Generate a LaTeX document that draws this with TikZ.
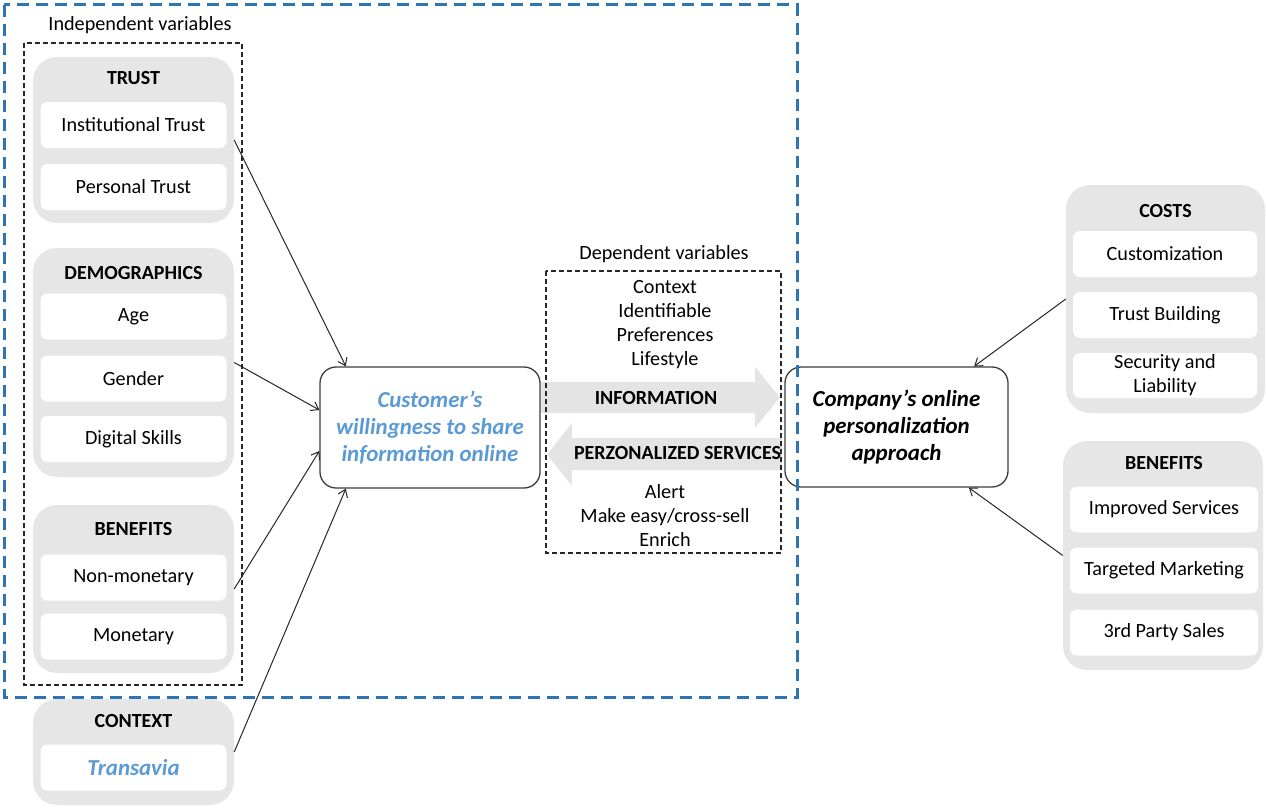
\documentclass[tikz,border=0pt]{standalone}
\usepackage{fontspec}
\setmainfont{Carlito}
\usetikzlibrary{arrows.meta}
\definecolor{grpgray}{RGB}{230,230,230}
\definecolor{arrgray}{RGB}{228,228,228}
\definecolor{hlblue}{RGB}{91,155,213}
\definecolor{frameblue}{RGB}{46,117,182}
\definecolor{boxedge}{RGB}{60,60,60}
\newcommand\normtxt{\fontsize{20.2}{24}\selectfont}
\newcommand\boldtxt{\fontsize{20}{24}\selectfont\bfseries}
\newcommand\emtxt{\fontsize{22.9}{27}\selectfont\bfseries\itshape}
\begin{document}
\begin{tikzpicture}[x=1pt,y=-1pt,
  grp/.style={fill=grpgray, rounded corners=24pt, inner sep=0pt, minimum width=201pt},
  item/.style={fill=white, rounded corners=7pt, inner sep=0pt, minimum width=186pt,
    minimum height=46pt, font=\normtxt, align=center},
  ttl/.style={font=\boldtxt, inner sep=0pt},
  lbl/.style={font=\normtxt, inner sep=0pt, align=center},
  mainbox/.style={draw=boxedge, line width=1.3pt, fill=white, rounded corners=16pt,
    inner sep=0pt, align=center, font=\emtxt},
  conn/.style={draw=black!85, line width=1pt, -{Straight Barb[length=7pt,width=10pt]}},
  groupframe/.style={draw=black!85, line width=1.4pt, dash pattern=on 5pt off 3pt},
  outerframe/.style={draw=frameblue, line width=3pt, dash pattern=on 12pt off 7pt}
]
\useasboundingbox (0,0) rectangle (1266,808);

% ---- independent variables (left column) ----
\node[grp, minimum height=166pt] (trust) at (133.5,140) {};
\node[ttl] (trustT) at (133.5,78) {TRUST};
\node[item] (inst) at (133.5,125) {Institutional Trust};
\node[item] (pers) at (133.5,187) {Personal Trust};

\node[grp, minimum height=229pt] (demo) at (133.5,362.5) {};
\node[ttl] (demoT) at (133.5,273) {DEMOGRAPHICS};
\node[item] (age) at (133.5,316.5) {Age};
\node[item] (gender) at (133.5,378.5) {Gender};
\node[item] (skills) at (133.5,439) {Digital Skills};

\node[grp, minimum height=168pt] (benL) at (133.5,589) {};
\node[ttl] (benLT) at (133.5,529) {BENEFITS};
\node[item] (nonmon) at (133.5,577.5) {Non-monetary};
\node[item] (mon) at (133.5,636.5) {Monetary};

\node[grp, minimum height=106pt] (ctx) at (133.5,752) {};
\node[ttl] (ctxT) at (133.5,721) {CONTEXT};
\node[item, font=\emtxt, text=hlblue] (transavia) at (133.5,767.5) {Transavia};

\node[lbl] (indep) at (140,25) {Independent variables};

% ---- company side (right column) ----
\node[grp, minimum width=199pt, minimum height=228pt] (costs) at (1165.5,299) {};
\node[ttl] (costsT) at (1165.5,211) {COSTS};
\node[item, minimum width=184pt] (custom) at (1165,254) {Customization};
\node[item, minimum width=184pt] (tbuild) at (1165,315) {Trust Building};
\node[item, minimum width=184pt, minimum height=45pt] (secur) at (1165,375.5) {Security and\\Liability};

\node[grp, minimum width=200pt, minimum height=229pt] (benR) at (1163,555.5) {};
\node[ttl] (benRT) at (1164,463) {BENEFITS};
\node[item, minimum width=188pt] (improved) at (1164,509.5) {Improved Services};
\node[item, minimum width=188pt] (targeted) at (1164,570.5) {Targeted Marketing};
\node[item, minimum width=188pt] (third) at (1164,632.5) {3rd Party Sales};

% ---- exchange arrows ----
\fill[arrgray] (541,382) -- (755,382) -- (755,367) -- (780,397.5) -- (755,428)
  -- (755,413) -- (541,413) -- cycle;
\fill[arrgray] (782,438) -- (572,438) -- (572,423) -- (547,454.5) -- (572,486)
  -- (572,470) -- (782,470) -- cycle;
\node[ttl] (info) at (656,398) {INFORMATION};
\node[ttl] (pserv) at (677.5,453) {PERZONALIZED SERVICES};

\node[lbl] (dep) at (664,254) {Dependent variables};
\node[lbl] (infolist) at (665,325) {Context\\Identifiable\\Preferences\\Lifestyle};
\node[lbl] (servlist) at (665,515.5) {Alert\\Make easy/cross-sell\\Enrich};

% ---- central boxes ----
\node[mainbox, text=hlblue, minimum width=220pt, minimum height=121pt] (cust) at (430,427.5)
  {Customer’s\\willingness to share\\information online};
\node[mainbox, fill=none, minimum width=223pt, minimum height=120pt] (comp) at (896.5,427)
  {Company’s online\\personalization\\approach};

% ---- connectors ----
\draw[conn] (trust.east) -- (cust.144);
\draw[conn] (demo.east) -- (cust.171);
\draw[conn] (benL.east) -- (cust.192);
\draw[conn] (ctx.east) -- (cust.216);
\draw[conn] (costs.west) -- (comp.38);
\draw[conn] (benR.west) -- (comp.320);

% ---- frames ----
\draw[groupframe] (24,43) rectangle (242,685);
\draw[groupframe] (546,271) rectangle (781,553);
\draw[outerframe] (4,5) rectangle (797,697);
\end{tikzpicture}
\end{document}
